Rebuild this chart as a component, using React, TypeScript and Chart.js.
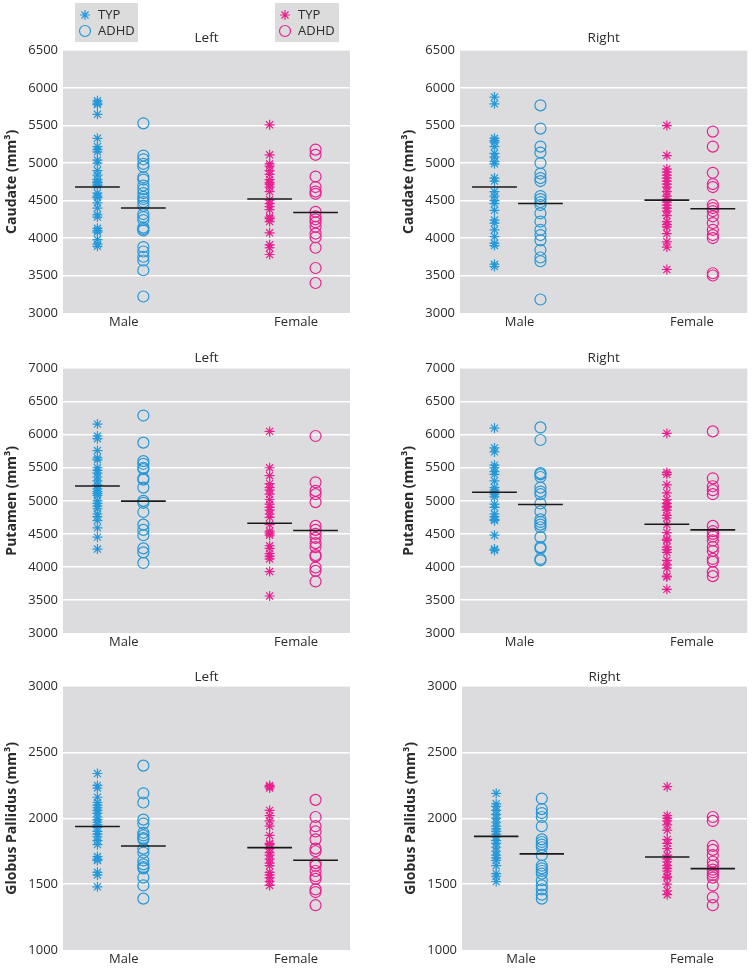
import React, { useEffect, useRef } from "react";
import { Chart, registerables } from "chart.js";

Chart.register(...registerables);

// ---------- categories / labels ----------
const groupLabels = ["Male", "Female"];
const seriesLabels = ["TYP", "ADHD"];
const sideTitles = ["Left", "Right"];
const regionTitles = ["Caudate (mm³)", "Putamen (mm³)", "Globus Pallidus (mm³)"];

// ---------- Caudate ----------
const caudateLeftMaleTYP = [5830, 5800, 5780, 5650, 5330, 5220, 5180, 5150, 5040, 5000, 4900, 4840, 4780, 4750, 4740, 4720, 4700, 4600, 4560, 4540, 4470, 4400, 4310, 4280, 4130, 4100, 4080, 3980, 3920, 3890];
const caudateLeftMaleADHD = [5530, 5100, 5050, 4990, 4950, 4810, 4780, 4700, 4650, 4600, 4550, 4520, 4480, 4430, 4320, 4280, 4240, 4140, 4120, 4100, 3880, 3820, 3750, 3700, 3570, 3220];
const caudateLeftFemaleTYP = [5510, 5110, 4990, 4960, 4900, 4850, 4780, 4740, 4720, 4680, 4620, 4510, 4460, 4420, 4380, 4280, 4260, 4220, 4070, 3910, 3870, 3780];
const caudateLeftFemaleADHD = [5180, 5110, 4820, 4680, 4620, 4590, 4350, 4290, 4250, 4210, 4150, 4060, 4010, 3870, 3600, 3400];
const caudateLeftMeans = [4680, 4400, 4520, 4340];

const caudateRightMaleTYP = [5880, 5790, 5330, 5300, 5280, 5220, 5130, 5080, 5020, 4990, 4800, 4760, 4620, 4560, 4500, 4460, 4370, 4240, 4200, 4110, 4020, 3930, 3900, 3650, 3620];
const caudateRightMaleADHD = [5770, 5460, 5220, 5140, 5000, 4860, 4800, 4760, 4560, 4520, 4480, 4440, 4330, 4220, 4110, 4040, 3970, 3840, 3740, 3690, 3180];
const caudateRightFemaleTYP = [5500, 5100, 4920, 4880, 4840, 4800, 4760, 4720, 4680, 4620, 4560, 4520, 4480, 4440, 4400, 4360, 4300, 4220, 4180, 4150, 4060, 3950, 3880, 3580];
const caudateRightFemaleADHD = [5420, 5220, 4870, 4720, 4680, 4440, 4400, 4360, 4290, 4200, 4110, 4040, 4000, 3530, 3500];
const caudateRightMeans = [4680, 4460, 4505, 4390];

// ---------- Putamen ----------
const putamenLeftMaleTYP = [6160, 5980, 5940, 5760, 5650, 5620, 5500, 5460, 5420, 5360, 5300, 5240, 5180, 5140, 5110, 5080, 5000, 4960, 4920, 4880, 4800, 4760, 4700, 4590, 4450, 4270];
const putamenLeftMaleADHD = [6290, 5880, 5600, 5560, 5500, 5480, 5340, 5320, 5200, 5000, 4970, 4830, 4640, 4560, 4480, 4280, 4220, 4060];
const putamenLeftFemaleTYP = [6050, 5500, 5380, 5260, 5200, 5160, 5100, 5020, 4950, 4900, 4860, 4800, 4750, 4640, 4540, 4510, 4480, 4320, 4280, 4200, 4160, 4120, 3930, 3560];
const putamenLeftFemaleADHD = [5980, 5280, 5150, 5100, 4980, 4620, 4560, 4500, 4440, 4360, 4300, 4180, 4160, 3990, 3940, 3780];
const putamenLeftMeans = [5225, 4995, 4660, 4550];

const putamenRightMaleTYP = [6100, 5800, 5740, 5540, 5500, 5440, 5400, 5300, 5200, 5160, 5130, 5100, 5060, 4950, 4900, 4800, 4760, 4720, 4700, 4480, 4270, 4250];
const putamenRightMaleADHD = [6110, 5920, 5420, 5400, 5360, 5200, 5140, 5100, 4960, 4840, 4720, 4680, 4640, 4600, 4450, 4300, 4280, 4120, 4100];
const putamenRightFemaleTYP = [6020, 5430, 5400, 5240, 5120, 5020, 4960, 4920, 4900, 4860, 4780, 4740, 4640, 4520, 4420, 4400, 4300, 4260, 4220, 4100, 4030, 3980, 3860, 3850, 3660];
const putamenRightFemaleADHD = [6050, 5340, 5220, 5160, 5100, 4620, 4540, 4500, 4460, 4400, 4300, 4240, 4120, 4080, 3920, 3860];
const putamenRightMeans = [5130, 4945, 4645, 4560];

// ---------- Globus Pallidus ----------
const gpLeftMaleTYP = [2340, 2250, 2230, 2160, 2120, 2100, 2080, 2060, 2040, 2010, 1990, 1970, 1950, 1930, 1900, 1880, 1860, 1830, 1800, 1710, 1690, 1680, 1590, 1570, 1480];
const gpLeftMaleADHD = [2400, 2190, 2120, 1990, 1960, 1890, 1870, 1850, 1840, 1770, 1740, 1680, 1650, 1630, 1620, 1550, 1490, 1390];
const gpLeftFemaleTYP = [2250, 2240, 2230, 2060, 2020, 1980, 1940, 1870, 1810, 1800, 1770, 1740, 1720, 1690, 1660, 1640, 1590, 1570, 1550, 1520, 1490];
const gpLeftFemaleADHD = [2140, 2010, 1940, 1900, 1840, 1770, 1750, 1660, 1640, 1600, 1560, 1540, 1460, 1440, 1340];
const gpLeftMeans = [1938, 1790, 1777, 1681];

const gpRightMaleTYP = [2190, 2110, 2090, 2060, 2030, 2000, 1970, 1940, 1920, 1900, 1880, 1860, 1830, 1810, 1780, 1750, 1720, 1700, 1680, 1640, 1580, 1560, 1520];
const gpRightMaleADHD = [2150, 2070, 2040, 2010, 1940, 1840, 1820, 1800, 1780, 1720, 1640, 1620, 1600, 1580, 1530, 1490, 1460, 1420, 1390];
const gpRightFemaleTYP = [2240, 2020, 2000, 1980, 1950, 1910, 1840, 1810, 1770, 1720, 1690, 1670, 1640, 1620, 1600, 1560, 1550, 1500, 1450, 1420];
const gpRightFemaleADHD = [2010, 1980, 1790, 1760, 1720, 1670, 1640, 1610, 1590, 1570, 1550, 1490, 1400, 1340];
const gpRightMeans = [1863, 1730, 1706, 1618];

// ---------- axis ranges ----------
const caudateRange = [3000, 6500];
const putamenRange = [3000, 7000];
const gpRange = [1000, 3000];
const tickStep = 500;

// ---------- styles ----------
const BLUE = "#2498d8";
const PINK = "#e8208f";
const PLOT_BG = "#dcdcde";
const TEXT = "#2b2b2b";
const FONT = "'Open Sans', 'DejaVu Sans', sans-serif";

const GROUP_CENTERS = [0.2, 0.8];
const SERIES_OFFSET = 0.08;
const MEAN_HALF = 0.078;

type PanelSpec = {
  title: string;
  yTitle: string;
  range: number[];
  series: number[][]; // maleTYP, maleADHD, femaleTYP, femaleADHD
  means: number[];
  box: { left: number; top: number; width: number; height: number };
  padL: number;
  padR: number;
  titlePad: { top: number; bottom: number };
  xH: number;
  labelShift: number;
  legend?: boolean;
};

const panels: PanelSpec[] = [
  {
    title: sideTitles[0], yTitle: regionTitles[0], range: caudateRange,
    series: [caudateLeftMaleTYP, caudateLeftMaleADHD, caudateLeftFemaleTYP, caudateLeftFemaleADHD],
    means: caudateLeftMeans,
    box: { left: 0, top: 0, width: 377, height: 330 }, padL: 0, padR: 27,
    titlePad: { top: 30.2, bottom: 4.2 }, xH: 17, labelShift: 0.012, legend: true,
  },
  {
    title: sideTitles[1], yTitle: regionTitles[0], range: caudateRange,
    series: [caudateRightMaleTYP, caudateRightMaleADHD, caudateRightFemaleTYP, caudateRightFemaleADHD],
    means: caudateRightMeans,
    box: { left: 377, top: 0, width: 377, height: 330 }, padL: 20, padR: 5,
    titlePad: { top: 30.2, bottom: 4.2 }, xH: 17, labelShift: 0.007,
  },
  {
    title: sideTitles[0], yTitle: regionTitles[1], range: putamenRange,
    series: [putamenLeftMaleTYP, putamenLeftMaleADHD, putamenLeftFemaleTYP, putamenLeftFemaleADHD],
    means: putamenLeftMeans,
    box: { left: 0, top: 330, width: 377, height: 320 }, padL: 0, padR: 27,
    titlePad: { top: 20.2, bottom: 2.2 }, xH: 17, labelShift: 0.012,
  },
  {
    title: sideTitles[1], yTitle: regionTitles[1], range: putamenRange,
    series: [putamenRightMaleTYP, putamenRightMaleADHD, putamenRightFemaleTYP, putamenRightFemaleADHD],
    means: putamenRightMeans,
    box: { left: 377, top: 330, width: 377, height: 320 }, padL: 20, padR: 6,
    titlePad: { top: 20.2, bottom: 2.2 }, xH: 17, labelShift: 0.007,
  },
  {
    title: sideTitles[0], yTitle: regionTitles[2], range: gpRange,
    series: [gpLeftMaleTYP, gpLeftMaleADHD, gpLeftFemaleTYP, gpLeftFemaleADHD],
    means: gpLeftMeans,
    box: { left: 0, top: 650, width: 377, height: 322 }, padL: 0, padR: 27,
    titlePad: { top: 19.2, bottom: 1.2 }, xH: 22, labelShift: 0.012,
  },
  {
    title: sideTitles[1], yTitle: regionTitles[2], range: gpRange,
    series: [gpRightMaleTYP, gpRightMaleADHD, gpRightFemaleTYP, gpRightFemaleADHD],
    means: gpRightMeans,
    box: { left: 377, top: 650, width: 377, height: 322 }, padL: 22, padR: 7,
    titlePad: { top: 19.2, bottom: 1.2 }, xH: 22, labelShift: 0.007,
  },
];

const plotBgPlugin = {
  id: "plotBg",
  beforeDraw(chart: any) {
    const { ctx, chartArea } = chart;
    if (!chartArea) return;
    ctx.save();
    ctx.fillStyle = PLOT_BG;
    ctx.fillRect(chartArea.left, chartArea.top, chartArea.right - chartArea.left, chartArea.bottom - chartArea.top);
    ctx.restore();
  },
};

function drawStar(ctx: CanvasRenderingContext2D, x: number, y: number, r: number) {
  ctx.beginPath();
  for (let i = 0; i < 4; i++) {
    const a = (i * Math.PI) / 4;
    ctx.moveTo(x - Math.cos(a) * r, y - Math.sin(a) * r);
    ctx.lineTo(x + Math.cos(a) * r, y + Math.sin(a) * r);
  }
  ctx.stroke();
}

const legendPlugin = {
  id: "groupLegends",
  afterDraw(chart: any) {
    const opts = chart.options.plugins.groupLegends;
    if (!opts || !opts.show) return;
    const ctx: CanvasRenderingContext2D = chart.ctx;
    const boxes = [
      { x: 75, y: 3, w: 63, h: 39, color: BLUE },
      { x: 275, y: 3, w: 64, h: 39, color: PINK },
    ];
    ctx.save();
    boxes.forEach((b) => {
      ctx.fillStyle = "#dcdcdc";
      ctx.fillRect(b.x, b.y, b.w, b.h);
      ctx.strokeStyle = b.color;
      ctx.lineWidth = 1.2;
      const mx = b.x + 10;
      drawStar(ctx, mx, b.y + 12, 5);
      ctx.beginPath();
      ctx.arc(mx, b.y + 28, 5.5, 0, Math.PI * 2);
      ctx.stroke();
      ctx.fillStyle = TEXT;
      ctx.font = `13px ${FONT}`;
      ctx.textBaseline = "middle";
      ctx.textAlign = "left";
      ctx.fillText(seriesLabels[0], b.x + 23, b.y + 12);
      ctx.fillText(seriesLabels[1], b.x + 23, b.y + 28);
    });
    ctx.restore();
  },
};

function buildConfig(p: PanelSpec): any {
  const colors = [BLUE, BLUE, PINK, PINK];
  const positions = [
    GROUP_CENTERS[0] - SERIES_OFFSET,
    GROUP_CENTERS[0] + SERIES_OFFSET,
    GROUP_CENTERS[1] - SERIES_OFFSET,
    GROUP_CENTERS[1] + SERIES_OFFSET,
  ];
  const labelPositions = GROUP_CENTERS.map((c) => c + p.labelShift);
  const datasets: any[] = [];
  p.series.forEach((vals, i) => {
    const isTyp = i % 2 === 0;
    datasets.push({
      label: `${groupLabels[Math.floor(i / 2)]} ${seriesLabels[i % 2]}`,
      data: vals.map((v) => ({ x: positions[i], y: v })),
      pointStyle: isTyp ? "star" : "circle",
      pointRadius: isTyp ? 5 : 5.5,
      pointBorderWidth: 1.2,
      borderColor: colors[i],
      backgroundColor: isTyp ? colors[i] : "rgba(0,0,0,0)",
      pointBackgroundColor: isTyp ? colors[i] : "rgba(0,0,0,0)",
      pointBorderColor: colors[i],
      showLine: false,
      order: 2,
    });
  });
  p.means.forEach((m, i) => {
    datasets.push({
      label: `mean ${i}`,
      data: [
        { x: positions[i] - MEAN_HALF, y: m },
        { x: positions[i] + MEAN_HALF, y: m },
      ],
      showLine: true,
      borderColor: "#1a1a1a",
      borderWidth: 1.6,
      pointRadius: 0,
      order: 0,
    });
  });

  return {
    type: "scatter",
    data: { datasets },
    plugins: [plotBgPlugin, legendPlugin],
    options: {
      animation: false,
      responsive: false,
      devicePixelRatio: 1,
      events: [],
      layout: { padding: { left: p.padL, right: p.padR, top: 0, bottom: 0 } },
      plugins: {
        legend: { display: false },
        tooltip: { enabled: false },
        groupLegends: { show: !!p.legend },
        title: {
          display: true,
          text: p.title,
          fullSize: false,
          color: TEXT,
          font: { family: FONT, size: 13.5, weight: "normal" },
          padding: p.titlePad,
        },
      },
      scales: {
        x: {
          type: "linear",
          min: 0,
          max: 1,
          grid: { display: false, drawTicks: false },
          border: { display: false },
          afterBuildTicks: (s: any) => {
            s.ticks = labelPositions.map((v) => ({ value: v }));
          },
          afterFit: (s: any) => {
            s.height = p.xH;
          },
          ticks: {
            autoSkip: false,
            maxRotation: 0,
            padding: 1,
            color: TEXT,
            font: { family: FONT, size: 13 },
            callback: (v: number) => groupLabels[labelPositions.indexOf(v)] ?? "",
          },
        },
        y: {
          type: "linear",
          min: p.range[0],
          max: p.range[1],
          afterFit: (s: any) => {
            s.width = 63;
          },
          grid: {
            drawTicks: false,
            lineWidth: 1.5,
            color: (c: any) =>
              c.tick && (c.tick.value === p.range[0] || c.tick.value === p.range[1]) ? "rgba(0,0,0,0)" : "#ffffff",
          },
          border: { display: false },
          ticks: {
            stepSize: tickStep,
            padding: 5,
            color: TEXT,
            font: { family: FONT, size: 13 },
            callback: (v: number) => String(v),
          },
          title: {
            display: true,
            text: p.yTitle,
            color: TEXT,
            font: { family: FONT, size: 14, weight: "bold" },
            padding: { top: 4, bottom: 0 },
          },
        },
      },
    },
  };
}

function Panel({ spec }: { spec: PanelSpec }) {
  const ref = useRef<HTMLCanvasElement | null>(null);
  useEffect(() => {
    if (!ref.current) return;
    const chart = new Chart(ref.current, buildConfig(spec));
    return () => chart.destroy();
  }, [spec]);
  return (
    <canvas
      ref={ref}
      width={spec.box.width}
      height={spec.box.height}
      style={{
        position: "absolute",
        left: spec.box.left,
        top: spec.box.top,
        width: spec.box.width,
        height: spec.box.height,
      }}
    />
  );
}

export default function App() {
  return (
    <div style={{ position: "absolute", left: 0, top: 0, width: 754, height: 972, background: "#ffffff" }}>
      {panels.map((p, i) => (
        <Panel key={i} spec={p} />
      ))}
    </div>
  );
}
